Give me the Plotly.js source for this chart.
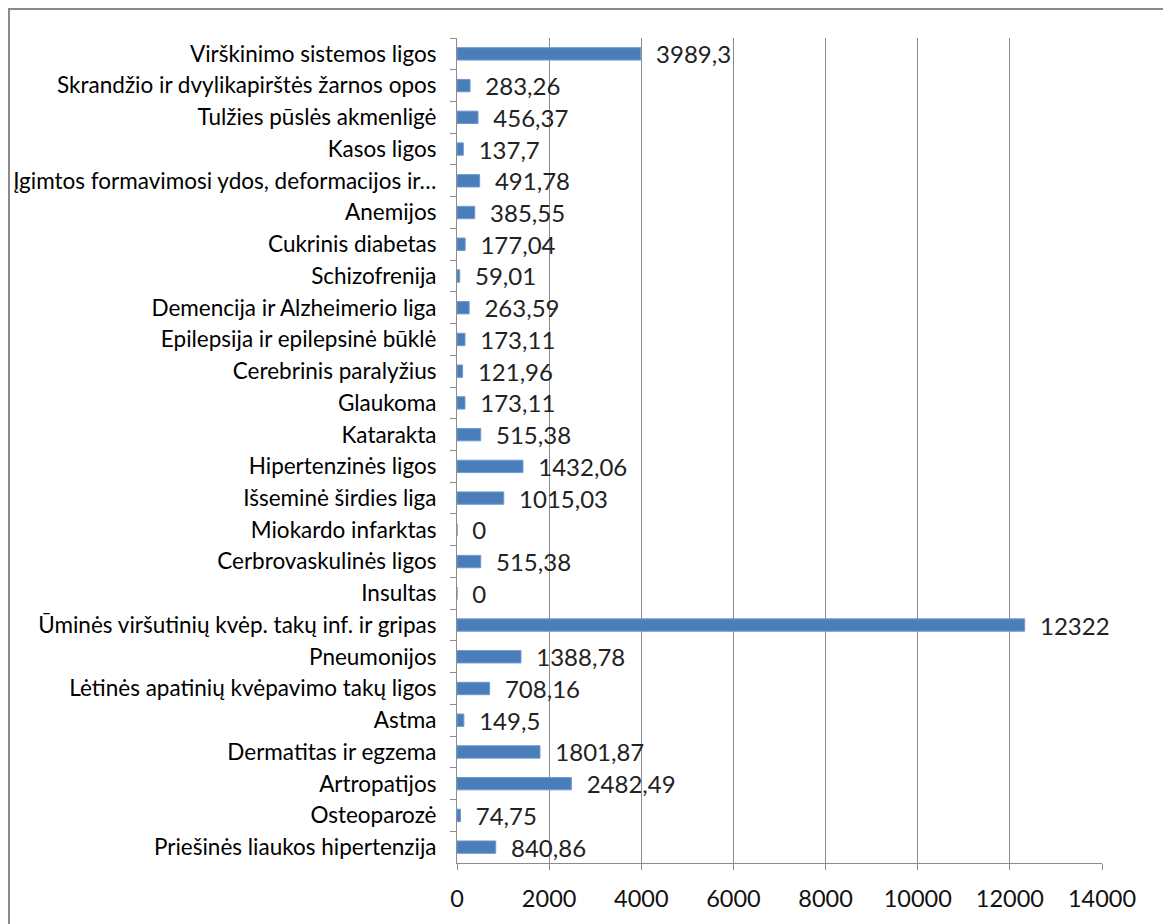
<!DOCTYPE html>
<html>
<head>
<meta charset="utf-8">
<script src="https://cdn.plot.ly/plotly-3.0.1.min.js"></script>
<style>
  html, body { margin: 0; padding: 0; background: #fff; overflow: hidden; }
  #chart { position: absolute; left: 0; top: 0; width: 1163px; height: 924px; }
  #frame { position: absolute; left: 8px; top: 8px; width: 1170px; height: 940px; border: 2px solid #8a8a8a; pointer-events: none; }
</style>
</head>
<body>
<div id="chart"></div>
<div id="frame"></div>
<script>
const categories = [
  "Virškinimo sistemos ligos",
  "Skrandžio ir dvylikapirštės žarnos opos",
  "Tulžies pūslės akmenligė",
  "Kasos ligos",
  "Įgimtos formavimosi ydos, deformacijos ir…",
  "Anemijos",
  "Cukrinis diabetas",
  "Schizofrenija",
  "Demencija ir Alzheimerio liga",
  "Epilepsija ir epilepsinė būklė",
  "Cerebrinis paralyžius",
  "Glaukoma",
  "Katarakta",
  "Hipertenzinės ligos",
  "Išseminė širdies liga",
  "Miokardo infarktas",
  "Cerbrovaskulinės ligos",
  "Insultas",
  "Ūminės viršutinių kvėp. takų inf. ir gripas",
  "Pneumonijos",
  "Lėtinės apatinių kvėpavimo takų ligos",
  "Astma",
  "Dermatitas ir egzema",
  "Artropatijos",
  "Osteoparozė",
  "Priešinės liaukos hipertenzija"
];
const values = [3989.3, 283.26, 456.37, 137.7, 491.78, 385.55, 177.04, 59.01, 263.59, 173.11,
  121.96, 173.11, 515.38, 1432.06, 1015.03, 0, 515.38, 0, 12322, 1388.78,
  708.16, 149.5, 1801.87, 2482.49, 74.75, 840.86];
const tickVals = [0, 2000, 4000, 6000, 8000, 10000, 12000, 14000];

const labels = values.map(v => "\u00a0\u00a0" + String(v).replace(".", ","));

const trace = {
  type: "bar",
  orientation: "h",
  y: categories,
  x: values,
  text: labels,
  textposition: "outside",
  constraintext: "none",
  cliponaxis: false,
  textfont: { family: "Lato, sans-serif", size: 24, color: "#222" },
  marker: { color: "#4a7ebb", line: { color: "#6f9ad0", width: 1 } },
  hoverinfo: "none"
};

const layout = {
  width: 1163, height: 924,
  margin: { l: 457, r: 61, t: 38, b: 61 },
  paper_bgcolor: "#fff", plot_bgcolor: "#fff",
  bargap: 0.61,
  showlegend: false,
  font: { family: "Lato, sans-serif", size: 22, color: "#000" },
  xaxis: {
    range: [0, 14000],
    tickvals: tickVals,
    ticktext: tickVals.map(String),
    showgrid: true, gridcolor: "#8c8c8c", gridwidth: 1,
    zeroline: false,
    showline: true, linecolor: "#8c8c8c", linewidth: 1,
    ticks: "outside", ticklen: 6, tickcolor: "#8c8c8c",
    ticklabelstandoff: 9,
    tickfont: { family: "Lato, sans-serif", size: 23.5, color: "#111" },
    fixedrange: true
  },
  yaxis: {
    type: "category",
    autorange: "reversed",
    showgrid: false,
    showline: true, linecolor: "#8c8c8c", linewidth: 1,
    ticks: "outside", ticklen: 6, tickcolor: "#8c8c8c",
    tickson: "boundaries",
    ticklabelstandoff: 15,
    tickfont: { family: "Lato, sans-serif", size: 22.5, color: "#000" },
    fixedrange: true
  }
};

Plotly.newPlot("chart", [trace], layout, { displayModeBar: false, staticPlot: true });
</script>
</body>
</html>
